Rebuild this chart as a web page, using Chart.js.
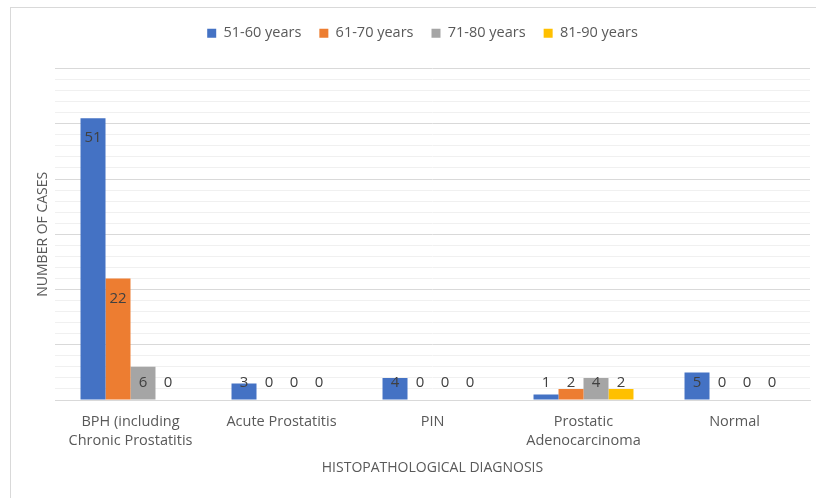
<!DOCTYPE html>
<html>
<head>
<meta charset="utf-8">
<script src="https://cdn.jsdelivr.net/npm/chart.js@4/dist/chart.umd.min.js"></script>
<style>
  html, body { margin: 0; padding: 0; background: #fff; }
  #wrap { position: relative; width: 816px; height: 498px; overflow: hidden; }
  #frame { position: absolute; left: 10px; top: 7px; width: 900px; height: 600px;
           border: 1px solid #d9d9d9; pointer-events: none; }
  canvas { position: absolute; left: 0; top: 0; }
</style>
</head>
<body>
<div id="wrap">
  <div id="frame"></div>
  <canvas id="myChart" width="816" height="498"></canvas>
</div>
<script>
var diagnoses = [
  ["BPH (including", "Chronic Prostatitis"],
  "Acute Prostatitis",
  "PIN",
  ["Prostatic", "Adenocarcinoma"],
  "Normal"
];
var ageGroups = ["51-60 years", "61-70 years", "71-80 years", "81-90 years"];
var colors = ["#4472C4", "#ED7D31", "#A5A5A5", "#FFC000"];

var cases5160 = [51, 3, 4, 1, 5];
var cases6170 = [22, 0, 0, 2, 0];
var cases7180 = [6, 0, 0, 4, 0];
var cases8190 = [0, 0, 0, 2, 0];

var font = "'Open Sans', 'Liberation Sans', sans-serif";

// value labels near the top of each bar, kept above the axis for short bars
var barLabels = {
  id: "barLabels",
  afterDatasetsDraw: function (chart) {
    var ctx = chart.ctx;
    ctx.save();
    ctx.font = "15px " + font;
    ctx.fillStyle = "#404040";
    ctx.textAlign = "center";
    ctx.textBaseline = "middle";
    chart.data.datasets.forEach(function (ds, i) {
      var meta = chart.getDatasetMeta(i);
      meta.data.forEach(function (bar, j) {
        var y = Math.min(bar.y + 20, bar.base - 17);
        ctx.fillText(ds.data[j], bar.x, y);
      });
    });
    ctx.restore();
  }
};

var series = [cases5160, cases6170, cases7180, cases8190];
var datasets = [];
for (var i = 0; i < series.length; i++) {
  datasets.push({
    label: ageGroups[i],
    data: series[i],
    backgroundColor: colors[i],
    borderWidth: 0,
    categoryPercentage: 0.662,
    barPercentage: 1
  });
}

var config = {
  type: "bar",
  data: { labels: diagnoses, datasets: datasets },
  options: {
    responsive: false,
    animation: false,
    layout: { padding: { top: 8, right: 6, bottom: 0, left: 35 } },
    plugins: {
      legend: {
        position: "top",
        labels: {
          boxWidth: 9,
          boxHeight: 9,
          padding: 18,
          color: "#595959",
          font: { family: font, size: 14.5 }
        }
      },
      tooltip: { enabled: false }
    },
    scales: {
      x: {
        grid: { display: false },
        border: { color: "#d9d9d9" },
        ticks: { color: "#595959", padding: 4, font: { family: font, size: 14.5, lineHeight: 1.35 } },
        title: { display: true, text: "HISTOPATHOLOGICAL DIAGNOSIS", color: "#595959",
                 font: { family: font, size: 14 }, padding: { top: 0, bottom: 22 } },
        afterFit: function (s) { s.height = 98; }
      },
      // empty band between the legend and the plot
      gap: {
        type: "category",
        position: "top",
        grid: { display: false },
        border: { display: false },
        ticks: { display: false },
        afterFit: function (s) { s.height = 18; }
      },
      y: {
        min: 0,
        max: 60,
        ticks: { display: false, stepSize: 2 },
        border: { display: false },
        grid: {
          drawTicks: false,
          color: function (c) { return c.tick.value % 10 === 0 ? "#d9d9d9" : "#f0f0f0"; }
        },
        title: { display: true, text: "NUMBER OF CASES", color: "#595959",
                 font: { family: font, size: 14 }, padding: { top: 0, bottom: 0 } },
        afterFit: function (s) { s.width = 20; }
      }
    }
  },
  plugins: [barLabels]
};

var myChart = new Chart(document.getElementById("myChart"), config);
</script>
</body>
</html>
